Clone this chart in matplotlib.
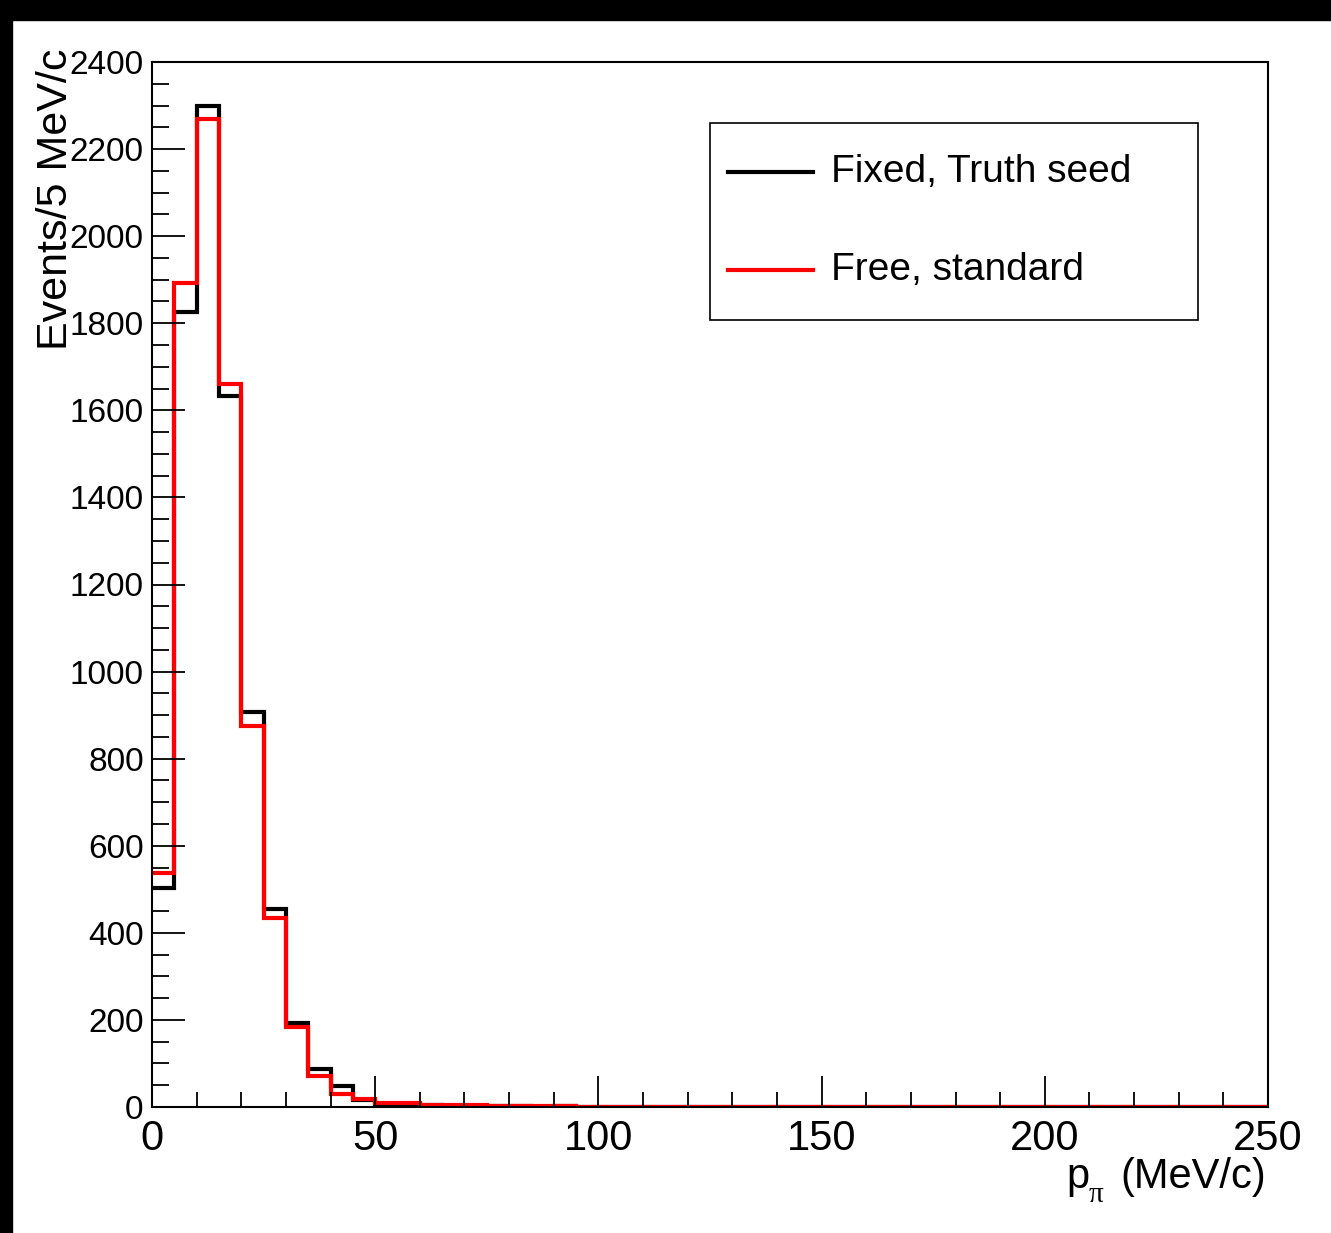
import matplotlib
matplotlib.use("Agg")
import matplotlib.pyplot as plt
from matplotlib.lines import Line2D
from matplotlib.patches import Rectangle
import numpy as np

# ---- data ----
bin_width = 5
x_max = 250
labels = ["Fixed, Truth seed", "Free, standard"]
colors = ["black", "red"]
fixed_truth_seed = [503, 1826, 2298, 1634, 907, 455, 192, 87, 48, 16,
                    7, 6, 4, 3, 3, 2, 2, 1, 2, 1,
                    1, 1, 0, 1, 0, 0, 0, 0, 0, 0,
                    0, 0, 0, 0, 0, 0, 0, 0, 0, 0,
                    0, 0, 0, 0, 0, 0, 0, 0, 0, 0]
free_standard = [537, 1892, 2269, 1660, 876, 433, 183, 71, 31, 18,
                 9, 10, 5, 4, 4, 3, 2, 2, 2, 1,
                 1, 1, 1, 0, 1, 0, 0, 0, 0, 0,
                 0, 0, 0, 0, 0, 0, 0, 0, 0, 0,
                 0, 0, 0, 0, 0, 0, 0, 0, 0, 0]
x_ticks = [0, 50, 100, 150, 200, 250]
y_ticks = [0, 200, 400, 600, 800, 1000, 1200, 1400, 1600, 1800, 2000, 2200, 2400]

W, H = 1331, 1233
fig = plt.figure(figsize=(W / 100, H / 100), dpi=100)
fig.patch.set_facecolor("white")
plt.rcParams["font.family"] = ["Liberation Sans", "DejaVu Sans"]

def fx(px):
    return px / W

def fy(py):
    return 1 - py / H

ax = fig.add_axes([fx(152), fy(1107), fx(1268) - fx(152), fy(62) - fy(1107)])
edges = np.arange(0, x_max + bin_width, bin_width)
series = [fixed_truth_seed, free_standard]
for vals, c in zip(series, colors):
    ax.stairs(vals, edges, baseline=None, color=c, linewidth=3.0)

ax.set_xlim(0, x_max)
ax.set_ylim(0, 2400)
ax.set_xticks(x_ticks)
ax.set_xticklabels([str(t) for t in x_ticks], fontsize=30)
ax.set_yticks(y_ticks)
ax.set_yticklabels([str(t) for t in y_ticks], fontsize=24)
ax.set_xticks(np.arange(0, x_max + 1, 10), minor=True)
ax.set_yticks(np.arange(0, 2401, 50), minor=True)
ax.tick_params(axis="x", which="major", direction="in", length=22, width=1.3, pad=9)
ax.tick_params(axis="x", which="minor", direction="in", length=11, width=1.3)
ax.tick_params(axis="y", which="major", direction="in", length=24, width=1.3, pad=6)
ax.tick_params(axis="y", which="minor", direction="in", length=12, width=1.3)
for s in ax.spines.values():
    s.set_linewidth(1.5)

# axis titles
fig.text(fx(56), fy(48), "Events/5 MeV/c", rotation=90, ha="center", va="top", fontsize=31)
fig.text(fx(1266), fy(1188), "(MeV/c)", ha="right", va="baseline", fontsize=30)
fig.text(fx(1066), fy(1188), "p", ha="left", va="baseline", fontsize=30)
fig.text(fx(1089), fy(1202), "\u03c0", ha="left", va="baseline", fontsize=21,
         family=["Liberation Serif", "DejaVu Serif"])

# legend
fig.patches.append(Rectangle((fx(710), fy(320)), fx(1198) - fx(710), fy(123) - fy(320),
                             transform=fig.transFigure, fill=True, facecolor="white",
                             edgecolor="black", linewidth=1.2, zorder=5))
for i, (lab, c) in enumerate(zip(labels, colors)):
    yc = 172 + i * 98
    fig.lines.append(Line2D([fx(728), fx(813)], [fy(yc), fy(yc)], color=c, linewidth=3.0,
                            transform=fig.transFigure, zorder=6))
    fig.text(fx(831), fy(yc), lab, ha="left", va="center", fontsize=28, zorder=7)

# black borders of the screenshot
fig.patches.append(Rectangle((0, fy(20)), 1, 1 - fy(20), transform=fig.transFigure,
                             color="black", zorder=10))
fig.patches.append(Rectangle((0, 0), fx(12), 1, transform=fig.transFigure,
                             color="black", zorder=10))

fig.savefig("out.png", dpi=100)
